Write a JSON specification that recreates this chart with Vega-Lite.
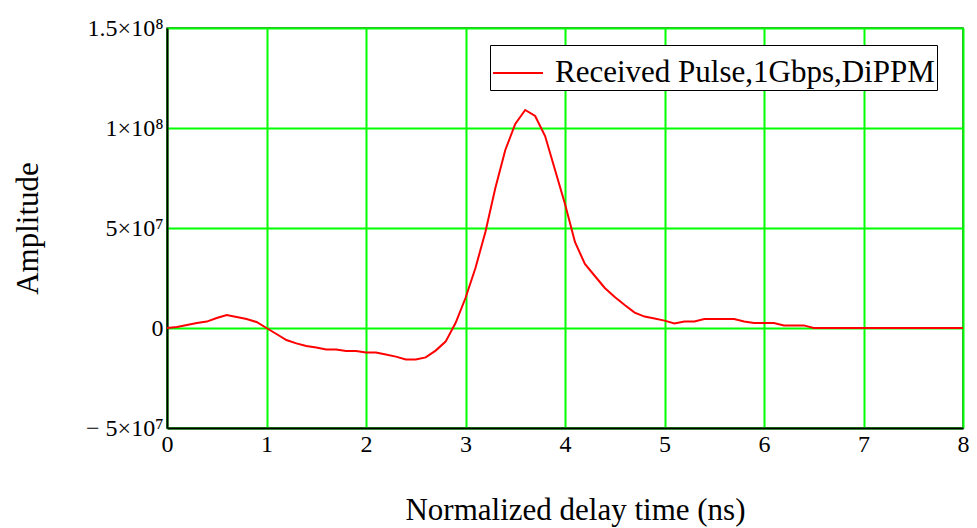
{
  "$schema": "https://vega.github.io/schema/vega-lite/v6.json",
  "width": 796,
  "height": 400,
  "autosize": "none",
  "padding": {"left": 167, "top": 28, "right": 14, "bottom": 100},
  "background": "white",
  "config": {
    "font": "Liberation Serif",
    "view": {"stroke": "#1f5a1f", "strokeWidth": 1.5},
    "axis": {
      "labelFont": "Liberation Serif",
      "titleFont": "Liberation Serif",
      "labelColor": "black",
      "titleColor": "black",
      "titleFontWeight": "normal",
      "domainColor": "black",
      "domainWidth": 2,
      "ticks": false,
      "gridColor": "#00ff00",
      "gridWidth": 2,
      "gridOpacity": 1
    }
  },
  "data": {
    "values": [
      {"t": 0.0, "v": 0},
      {"t": 0.1, "v": 500000},
      {"t": 0.2, "v": 1500000},
      {"t": 0.3, "v": 2500000},
      {"t": 0.4, "v": 3200000},
      {"t": 0.5, "v": 5000000},
      {"t": 0.6, "v": 6500000},
      {"t": 0.7, "v": 5500000},
      {"t": 0.8, "v": 4500000},
      {"t": 0.9, "v": 3000000},
      {"t": 1.0, "v": 0},
      {"t": 1.1, "v": -3000000},
      {"t": 1.2, "v": -6000000},
      {"t": 1.3, "v": -7700000},
      {"t": 1.4, "v": -9000000},
      {"t": 1.5, "v": -9800000},
      {"t": 1.6, "v": -10700000},
      {"t": 1.7, "v": -10700000},
      {"t": 1.8, "v": -11500000},
      {"t": 1.9, "v": -11500000},
      {"t": 2.0, "v": -12300000},
      {"t": 2.1, "v": -12300000},
      {"t": 2.2, "v": -13300000},
      {"t": 2.3, "v": -14300000},
      {"t": 2.4, "v": -15700000},
      {"t": 2.5, "v": -15700000},
      {"t": 2.6, "v": -14700000},
      {"t": 2.7, "v": -11300000},
      {"t": 2.8, "v": -6800000},
      {"t": 2.9, "v": 2500000},
      {"t": 3.0, "v": 15000000},
      {"t": 3.1, "v": 30000000},
      {"t": 3.2, "v": 48000000},
      {"t": 3.3, "v": 70000000},
      {"t": 3.4, "v": 89000000},
      {"t": 3.5, "v": 102000000},
      {"t": 3.6, "v": 109000000},
      {"t": 3.7, "v": 106000000},
      {"t": 3.8, "v": 96000000},
      {"t": 3.9, "v": 79000000},
      {"t": 4.0, "v": 62000000},
      {"t": 4.1, "v": 43000000},
      {"t": 4.2, "v": 32000000},
      {"t": 4.3, "v": 26000000},
      {"t": 4.4, "v": 20000000},
      {"t": 4.5, "v": 15500000},
      {"t": 4.6, "v": 11500000},
      {"t": 4.7, "v": 7700000},
      {"t": 4.8, "v": 5700000},
      {"t": 4.9, "v": 4800000},
      {"t": 5.0, "v": 3700000},
      {"t": 5.1, "v": 2300000},
      {"t": 5.2, "v": 3300000},
      {"t": 5.3, "v": 3300000},
      {"t": 5.4, "v": 4500000},
      {"t": 5.5, "v": 4500000},
      {"t": 5.6, "v": 4500000},
      {"t": 5.7, "v": 4500000},
      {"t": 5.8, "v": 3300000},
      {"t": 5.9, "v": 2500000},
      {"t": 6.0, "v": 2500000},
      {"t": 6.1, "v": 2500000},
      {"t": 6.2, "v": 1300000},
      {"t": 6.3, "v": 1300000},
      {"t": 6.4, "v": 1300000},
      {"t": 6.5, "v": 0},
      {"t": 6.6, "v": 0},
      {"t": 6.8, "v": 0},
      {"t": 7.0, "v": 0},
      {"t": 7.2, "v": 0},
      {"t": 7.4, "v": 0},
      {"t": 7.6, "v": 0},
      {"t": 7.8, "v": 0},
      {"t": 8.0, "v": 0}
    ]
  },
  "mark": {"type": "line", "strokeWidth": 2, "interpolate": "linear"},
  "encoding": {
    "x": {
      "field": "t",
      "type": "quantitative",
      "scale": {"domain": [0, 8], "nice": false, "zero": false},
      "axis": {
        "values": [0, 1, 2, 3, 4, 5, 6, 7, 8],
        "title": "Normalized delay time (ns)",
        "titleFontSize": 31,
        "titleX": 408,
        "titleY": 82,
        "titleBaseline": "middle",
        "labelFontSize": 24,
        "labelDx": 5,
        "labelPadding": 4,
        "labelFlush": false
      }
    },
    "y": {
      "field": "v",
      "type": "quantitative",
      "scale": {"domain": [-50000000, 150000000], "nice": false, "zero": false},
      "axis": {
        "values": [-50000000, 0, 50000000, 100000000, 150000000],
        "labelExpr": "datum.value == 150000000 ? '1.5×10⁸' : datum.value == 100000000 ? '1×10⁸' : datum.value == 50000000 ? '5×10⁷' : datum.value == 0 ? '0' : '− 5×10⁷'",
        "title": "Amplitude",
        "titleFontSize": 31,
        "titleX": -139,
        "titleY": 200,
        "titleBaseline": "middle",
        "labelFontSize": 24,
        "labelPadding": 4,
        "labelDy": 3,
        "labelFlush": false
      }
    },
    "color": {
      "datum": "Received Pulse,1Gbps,DiPPM",
      "type": "nominal",
      "scale": {"range": ["#ff0000"]},
      "legend": {
        "title": null,
        "orient": "none",
        "legendX": 323,
        "legendY": 17,
        "strokeColor": "black",
        "fillColor": "white",
        "padding": 2,
        "symbolType": "stroke",
        "symbolSize": 2500,
        "symbolStrokeWidth": 2,
        "labelFont": "Liberation Serif",
        "labelFontSize": 31,
        "labelColor": "black",
        "labelLimit": 600,
        "labelOffset": 11
      }
    }
  }
}
